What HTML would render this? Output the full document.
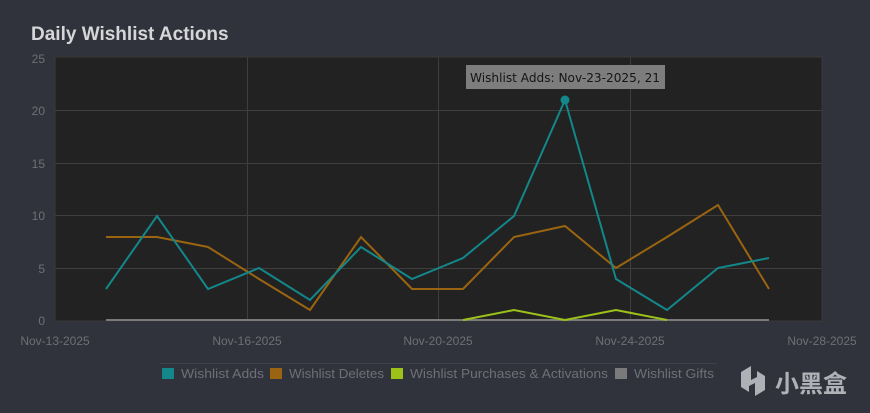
<!DOCTYPE html>
<html><head><meta charset="utf-8"><style>
body{margin:0;width:870px;height:413px;background:#30333b;overflow:hidden;font-family:"Liberation Sans",sans-serif}
</style></head><body>
<svg width="870" height="413" xmlns="http://www.w3.org/2000/svg" style="position:absolute;left:0;top:0">
<text x="31" y="40" font-size="19" font-weight="bold" fill="#d6d6d8" font-family="Liberation Sans, sans-serif">Daily Wishlist Actions</text>
<rect x="55" y="57" width="767" height="264" fill="#222222" stroke="#3a3a3a"/>
<g stroke="#3e3e3e" stroke-width="1">
<line x1="55" y1="110.5" x2="822" y2="110.5"/><line x1="55" y1="163.5" x2="822" y2="163.5"/>
<line x1="55" y1="215.5" x2="822" y2="215.5"/><line x1="55" y1="268.5" x2="822" y2="268.5"/>
<line x1="247.5" y1="57" x2="247.5" y2="321"/><line x1="438.5" y1="57" x2="438.5" y2="321"/><line x1="630.5" y1="57" x2="630.5" y2="321"/>
</g>
<g font-size="12" fill="#6e7077" text-anchor="end" font-family="Liberation Sans, sans-serif">
<text x="45" y="63">25</text><text x="45" y="115">20</text><text x="45" y="168">15</text><text x="45" y="220">10</text><text x="45" y="273">5</text><text x="45" y="325">0</text>
</g>
<g font-size="12" fill="#6e7077" text-anchor="middle" font-family="Liberation Sans, sans-serif">
<text x="55" y="345">Nov-13-2025</text><text x="247" y="345">Nov-16-2025</text><text x="438" y="345">Nov-20-2025</text><text x="630" y="345">Nov-24-2025</text><text x="822" y="345">Nov-28-2025</text>
</g>
<g fill="none" stroke-width="2" stroke-linejoin="miter">
<polyline stroke="#7a7a7a" points="106,320 769,320"/>
<polyline stroke="#9cc21a" points="463,320 514,310 565,320 616,310 667,320"/>
<polyline stroke="#9a6410" points="106,237 157,237 208,247 259,279 310,310 361,237 412,289 463,289 514,237 565,226 616,268 667,237 718,205 769,289"/>
<polyline stroke="#13878a" points="106,289 157,216 208,289 259,268 310,300 361,247 412,279 463,258 514,216 565,100 616,279 667,310 718,268 769,258"/>
</g>
<circle cx="565" cy="100" r="4.5" fill="#13878a"/>
<rect x="466" y="65" width="199" height="24" fill="#7d7d7d"/>
<text x="470" y="82" font-size="12" textLength="190" lengthAdjust="spacingAndGlyphs" fill="#151515" font-family="DejaVu Sans, sans-serif">Wishlist Adds: Nov-23-2025, 21</text>
<line x1="160" y1="363.5" x2="717" y2="363.5" stroke="#3e4149"/>
<g font-size="13" fill="#6e7077" font-family="Liberation Sans, sans-serif">
<rect x="162" y="368" width="12" height="11" fill="#13878a"/><text x="181" y="378" textLength="83" lengthAdjust="spacingAndGlyphs">Wishlist Adds</text>
<rect x="270" y="368" width="12" height="11" fill="#9a6410"/><text x="289" y="378" textLength="95" lengthAdjust="spacingAndGlyphs">Wishlist Deletes</text>
<rect x="391" y="368" width="12" height="11" fill="#9cc21a"/><text x="410" y="378" textLength="198" lengthAdjust="spacingAndGlyphs">Wishlist Purchases &amp; Activations</text>
<rect x="615" y="368" width="12" height="11" fill="#7a7a7a"/><text x="634" y="378" textLength="80" lengthAdjust="spacingAndGlyphs">Wishlist Gifts</text>
</g>
<text x="775" y="392" font-size="24" font-weight="bold" fill="#b0b1b6" font-family="Noto Sans CJK SC, sans-serif">小黑盒</text>
<path d="M741 372 l10 -6 v14 l6 -3 v-6 l8 5 v14 l-10 6 v-13 l-6 3 v6 l-8 -5z" fill="#b0b1b6"/>
</svg>
</body></html>
